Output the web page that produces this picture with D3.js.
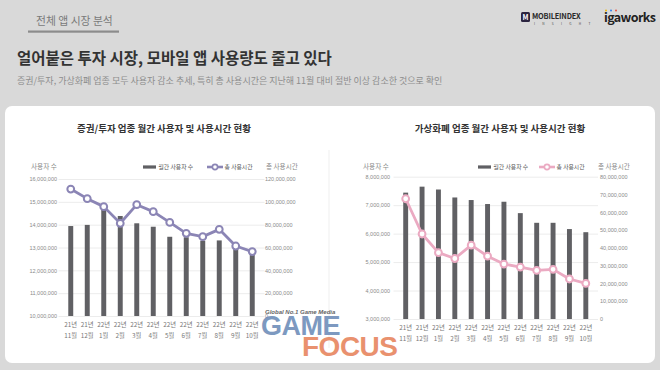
<!DOCTYPE html>
<html>
<head>
<meta charset="utf-8">
<script src="https://cdn.jsdelivr.net/npm/d3@7"></script>
<style>
    body { margin: 0; background: #d9d9d9; }
    svg { display: block; font-family: "Noto Sans CJK KR", "Noto Sans", sans-serif; }
</style>
</head>
<body>
<svg id="chart" width="660" height="370"></svg>
<script>
// months shared by both charts
var months = ["21년 11월", "21년 12월", "22년 1월", "22년 2월", "22년 3월", "22년 4월",
              "22년 5월", "22년 6월", "22년 7월", "22년 8월", "22년 9월", "22년 10월"];

// 증권/투자
var stockUsers = [13940000, 13990000, 14670000, 14380000, 14060000, 13910000,
                  13470000, 13450000, 13300000, 13310000, 12950000, 12700000];
var stockHours = [111200000, 102800000, 95800000, 81200000, 97500000, 91400000,
                  82000000, 72400000, 69500000, 75900000, 61300000, 56400000];
var stockUserTicks = [10000000, 11000000, 12000000, 13000000, 14000000, 15000000, 16000000];
var stockHourTicks = [0, 20000000, 40000000, 60000000, 80000000, 100000000, 120000000];

// 가상화폐
var coinUsers = [7440000, 7650000, 7550000, 7270000, 7180000, 7040000,
                 7120000, 6720000, 6380000, 6380000, 6160000, 6050000];
var coinHours = [67600000, 47800000, 37300000, 34000000, 41500000, 35300000,
                 30900000, 29200000, 27300000, 27900000, 22500000, 20000000];
var coinUserTicks = [3000000, 4000000, 5000000, 6000000, 7000000, 8000000];
var coinHourTicks = [0, 10000000, 20000000, 30000000, 40000000, 50000000, 60000000, 70000000, 80000000];

var svg = d3.select("#chart"),
    fmt = d3.format(",");

function header() {
    svg.append("text").attr("x", 36).attr("y", 24.5).text("전체 앱 시장 분석")
        .style("font-size", "10.8px").attr("fill", "#7a7a7a");
    svg.append("rect").attr("x", 28).attr("y", 30.5).attr("width", 91).attr("height", 2.2).attr("fill", "#8c8c8c");

    svg.append("text").attr("x", 17).attr("y", 64).text("얼어붙은 투자 시장, 모바일 앱 사용량도 줄고 있다")
        .style("font-size", "15.5px").style("font-weight", "bold").attr("fill", "#333");
    svg.append("text").attr("x", 17).attr("y", 83.5).text("증권/투자, 가상화폐 업종 모두 사용자 감소 추세, 특히 총 사용시간은 지난해 11월 대비 절반 이상 감소한 것으로 확인")
        .style("font-size", "9px").attr("fill", "#8d8d8d");

    // logos
    var logo = svg.append("g");
    logo.append("rect").attr("x", 521).attr("y", 12).attr("width", 9).attr("height", 10).attr("rx", 1.5).attr("fill", "#2b2440");
    logo.append("text").attr("x", 525.5).attr("y", 20.3).attr("text-anchor", "middle").text("M")
        .style("font-size", "7px").style("font-weight", "bold").attr("fill", "#fff");
    logo.append("text").attr("x", 532).attr("y", 18.5).text("MOBILEINDEX")
        .style("font-size", "7.4px").style("font-weight", "bold").attr("fill", "#2a2a2a").attr("letter-spacing", "-0.2");
    logo.append("text").attr("x", 534).attr("y", 24.5).text("I N S I G H T")
        .style("font-size", "3.2px").attr("fill", "#444").attr("letter-spacing", "3.3");
    logo.append("text").attr("x", 604).attr("y", 22).text("igaworks")
        .style("font-size", "12.5px").style("font-weight", "bold").attr("fill", "#222").attr("letter-spacing", "-0.6");
    [["#f2b705", 606], ["#2f80ed", 611], ["#e94e3c", 616]].forEach(d => {
        logo.append("circle").attr("cx", d[1]).attr("cy", 10.5).attr("r", 1).attr("fill", d[0]);
    });

    // card
    svg.append("rect").attr("x", 5).attr("y", 106).attr("width", 650).attr("height", 257)
        .attr("rx", 7).attr("fill", "#fff");
    svg.append("line").attr("x1", 329).attr("x2", 329).attr("y1", 150).attr("y2", 348)
        .attr("stroke", "#efefef").attr("stroke-width", 1);
}

function draw_combo(cfg) {
    var g = svg.append("g"),
        x = d3.scaleBand().domain(months).range(cfg.xr).paddingInner(0.7).paddingOuter(0.35),
        yl = d3.scaleLinear().domain(d3.extent(cfg.userTicks)).range(cfg.yr),
        yr = d3.scaleLinear().domain(d3.extent(cfg.hourTicks)).range(cfg.yr);

    g.append("text").attr("x", cfg.titleX).attr("y", 131.5).attr("text-anchor", "middle").text(cfg.title)
        .style("font-size", "9.5px").style("font-weight", "bold").attr("fill", "#333");

    // grid
    g.append("g").attr("transform", "translate(" + [cfg.xr[0] - 4, 0] + ")")
        .call(d3.axisLeft(yl).tickValues(cfg.userTicks).tickSize(-(cfg.xr[1] - cfg.xr[0] + 8)).tickFormat(""))
        .call(a => a.select(".domain").remove())
        .selectAll("line").attr("stroke", "#ececec");

    // y axes
    g.append("g").attr("transform", "translate(" + [cfg.leftLabelX, 0] + ")")
        .call(d3.axisLeft(yl).tickValues(cfg.userTicks).tickSize(0).tickPadding(0).tickFormat(fmt))
        .call(a => a.select(".domain").remove())
        .selectAll("text").style("font-size", "5.5px").style("font-family", "inherit").attr("fill", "#8a8a8a");
    g.append("g").attr("transform", "translate(" + [cfg.rightLabelX, 0] + ")")
        .call(d3.axisRight(yr).tickValues(cfg.hourTicks).tickSize(0).tickPadding(0).tickFormat(fmt))
        .call(a => a.select(".domain").remove())
        .selectAll("text").style("font-size", "5.5px").style("font-family", "inherit").attr("fill", "#8a8a8a");

    // axis titles
    g.append("text").attr("x", cfg.leftTitleX).attr("y", 169).text("사용자 수")
        .style("font-size", "6.6px").attr("fill", "#8a8a8a");
    g.append("text").attr("x", cfg.rightTitleX).attr("y", 169).text("총 사용시간")
        .style("font-size", "6.6px").attr("fill", "#8a8a8a");

    // x labels
    var xl = g.append("g").selectAll("text").data(months).enter().append("text")
        .attr("text-anchor", "middle")
        .attr("transform", d => "translate(" + [x(d) + x.bandwidth() / 2, cfg.yr[0]] + ")")
        .style("font-size", "6.3px").attr("fill", "#777");
    xl.append("tspan").attr("x", 0).attr("y", cfg.xLabelY).text(d => d.split(" ")[0]);
    xl.append("tspan").attr("x", 0).attr("y", cfg.xLabelY + 11).text(d => d.split(" ")[1]);

    // bars
    g.append("g").selectAll("rect").data(cfg.users).enter().append("rect")
        .attr("x", (d, i) => x(months[i]))
        .attr("width", x.bandwidth())
        .attr("y", d => yl(d))
        .attr("height", d => yl.range()[0] - yl(d))
        .attr("fill", "#606064");

    // line
    var line = d3.line().x((d, i) => x(months[i]) + x.bandwidth() / 2).y(d => yr(d));
    g.append("path").datum(cfg.hours).attr("d", line).attr("fill", "none")
        .attr("stroke", cfg.lineColor).attr("stroke-width", 2.8).attr("stroke-linejoin", "round");
    g.append("g").selectAll("circle").data(cfg.hours).enter().append("circle")
        .attr("cx", (d, i) => x(months[i]) + x.bandwidth() / 2)
        .attr("cy", d => yr(d))
        .attr("r", 3.4).attr("fill", "#fff").attr("stroke", cfg.lineColor).attr("stroke-width", 2);

    // legend
    var lg = g.append("g").attr("transform", "translate(" + [cfg.legendX, 167] + ")");
    lg.append("rect").attr("x", 0).attr("y", -1.6).attr("width", 13).attr("height", 3.2).attr("fill", "#606064");
    lg.append("text").attr("x", 15.5).attr("y", 2).text("월간 사용자 수").style("font-size", "5.8px").attr("fill", "#555");
    lg.append("line").attr("x1", cfg.legendGap).attr("x2", cfg.legendGap + 16).attr("y1", 0).attr("y2", 0)
        .attr("stroke", cfg.lineColor).attr("stroke-width", 2.6);
    lg.append("circle").attr("cx", cfg.legendGap + 8).attr("cy", 0).attr("r", 2.6)
        .attr("fill", "#fff").attr("stroke", cfg.lineColor).attr("stroke-width", 1.6);
    lg.append("text").attr("x", cfg.legendGap + 17.5).attr("y", 2).text("총 사용시간").style("font-size", "5.8px").attr("fill", "#555");
}

function watermark() {
    var w = svg.append("g").attr("opacity", 0.9);
    w.append("text").attr("x", 265).attr("y", 313.5).text("Global No.1 Game Media")
        .style("font-size", "6px").style("font-weight", "bold").style("font-style", "italic")
        .style("font-family", "Liberation Sans, sans-serif").attr("fill", "#555");
    w.append("text").attr("x", 261).attr("y", 335).text("GAME")
        .style("font-size", "27px").style("font-weight", "bold").style("font-family", "Liberation Sans, sans-serif")
        .attr("fill", "#6f8fba").attr("letter-spacing", "-0.5");
    w.append("text").attr("x", 302).attr("y", 355.5).text("FOCUS")
        .style("font-size", "28px").style("font-weight", "bold").style("font-family", "Liberation Sans, sans-serif")
        .attr("fill", "#e7865f").attr("letter-spacing", "-0.5");
}

header();

draw_combo({
    title: "증권/투자 업종 월간 사용자 및 사용시간 현황", titleX: 164,
    users: stockUsers, hours: stockHours,
    userTicks: stockUserTicks, hourTicks: stockHourTicks,
    xr: [62.5, 260.5], yr: [316, 179],
    leftLabelX: 57, rightLabelX: 265, leftTitleX: 31, rightTitleX: 266,
    xLabelY: 10.5, legendX: 143, legendGap: 64,
    lineColor: "#8b85b5"
});

draw_combo({
    title: "가상화폐 업종 월간 사용자 및 사용시간 현황", titleX: 500,
    users: coinUsers, hours: coinHours,
    userTicks: coinUserTicks, hourTicks: coinHourTicks,
    xr: [397.5, 594], yr: [319, 176.7],
    leftLabelX: 390, rightLabelX: 600, leftTitleX: 363, rightTitleX: 598,
    xLabelY: 10.5, legendX: 478, legendGap: 61,
    lineColor: "#ebaac2"
});

watermark();
</script>
</body>
</html>
